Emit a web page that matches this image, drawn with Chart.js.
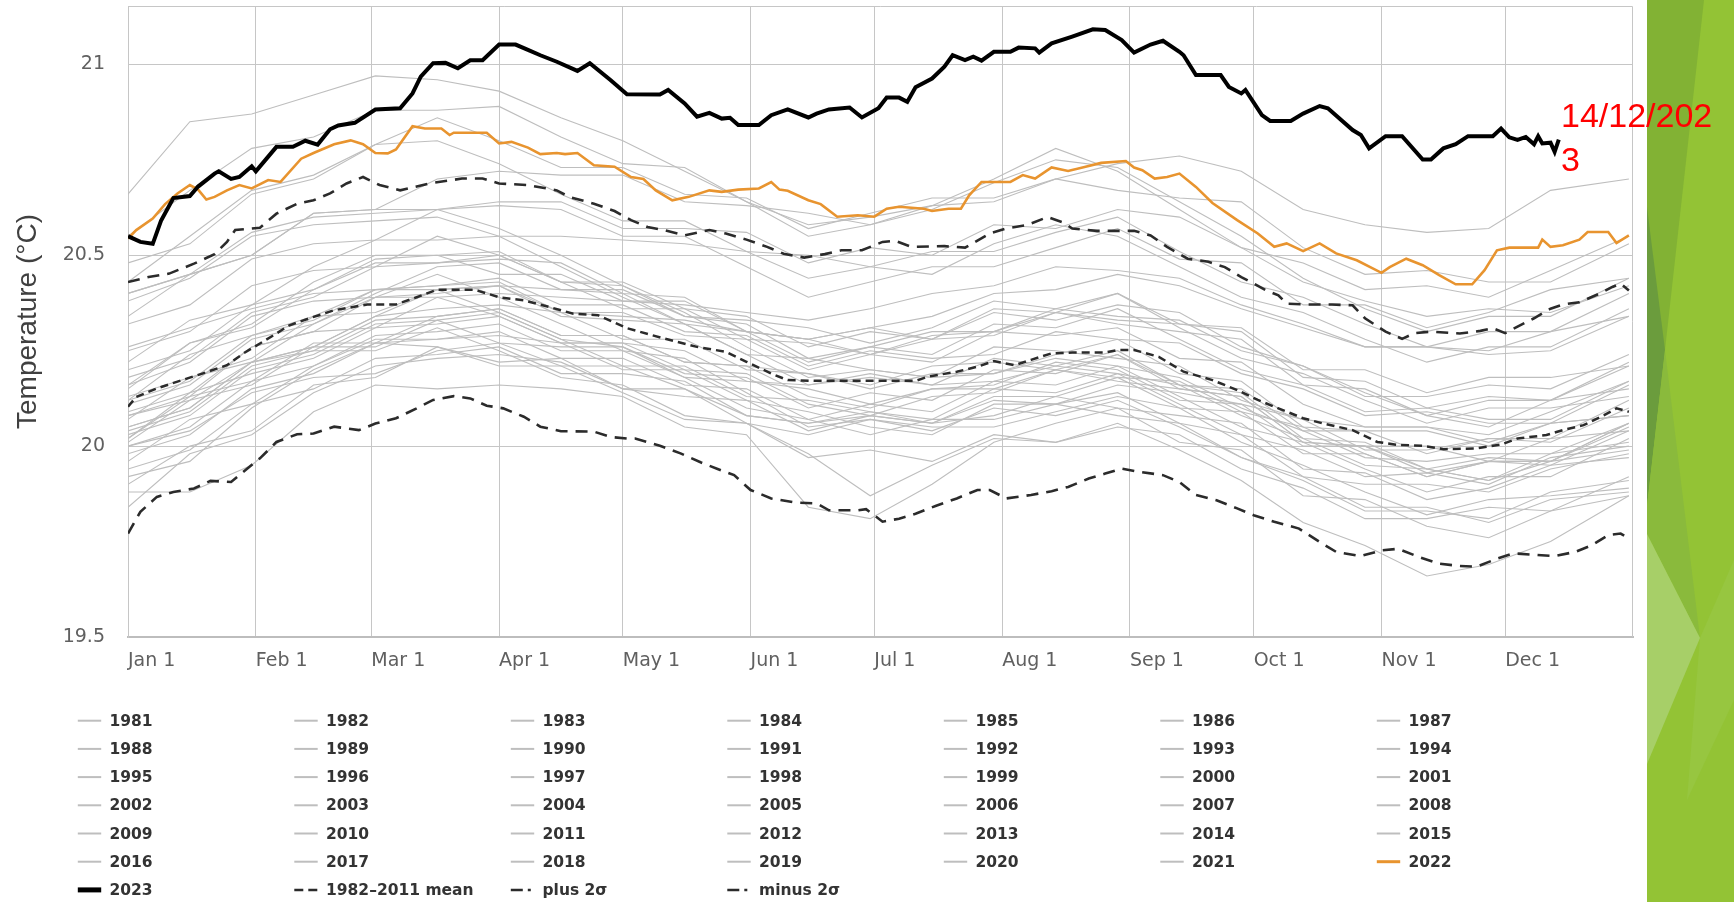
<!DOCTYPE html>
<html>
<head>
<meta charset="utf-8">
<script src="https://cdn.jsdelivr.net/npm/chart.js@4.4.1/dist/chart.umd.min.js"></script>
<style>
html,body{margin:0;padding:0;background:#fff;width:1734px;height:902px;overflow:hidden;}
#wrap{position:relative;width:1734px;height:902px;}
#deco{position:absolute;left:1647px;top:0;width:87px;height:902px;}
#c{position:absolute;left:0;top:0;}
#note{position:absolute;left:1561px;top:93px;width:160px;font-family:"Liberation Sans",Arial,sans-serif;font-size:34px;line-height:44px;color:#ff0000;word-break:break-all;}
</style>
</head>
<body>
<div id="wrap">
<svg id="deco" width="87" height="902" viewBox="0 0 87 902">
  <rect x="0" y="0" width="87" height="902" fill="#93c335"/>
  <polygon points="0,0 57,0 18,350 0,500" fill="#82b234"/>
  <polygon points="0,207 18,350 0,506" fill="#6b9c3d"/>
  <polygon points="18,350 53,638 0,534 0,506" fill="#8aba3c"/>
  <polygon points="0,534 53,638 0,764" fill="#a7cf68"/>
  <polygon points="53,638 87,560 87,700 40,800" fill="#97c640"/>
</svg>
<canvas id="c" width="1734" height="902"></canvas>
<div id="note">14/12/2023</div>
</div>
<script>
// ---- axis ticks ----
const monthDays = [0,31,59,90,120,151,181,212,243,273,304,334];
const monthLabels = ['Jan 1','Feb 1','Mar 1','Apr 1','May 1','Jun 1','Jul 1','Aug 1','Sep 1','Oct 1','Nov 1','Dec 1'];
const yTicks = [19.5,20,20.5,21];

// ---- gray years (1981-2021), values at these days ----
const grayDays = [0,15,30,45,60,75,90,105,120,135,150,165,180,195,210,225,240,255,270,285,300,315,330,345,364];
const grayYears = [1981,1982,1983,1984,1985,1986,1987,1988,1989,1990,1991,1992,1993,1994,1995,1996,1997,1998,1999,2000,2001,2002,2003,2004,2005,2006,2007,2008,2009,2010,2011,2012,2013,2014,2015,2016,2017,2018,2019,2020,2021];
const y1981 = [20.00,20.04,20.14,20.18,20.19,20.25,20.27,20.21,20.21,20.15,20.06,20.03,20.07,20.05,20.05,20.09,20.13,20.10,20.01,19.95,19.88,19.82,19.86,19.87,19.89];
const y1982 = [19.92,19.96,20.10,20.20,20.27,20.26,20.22,20.23,20.15,20.13,20.12,20.09,20.05,20.03,20.11,20.11,20.16,20.14,20.11,20.07,20.05,20.05,20.03,20.09,20.17];
const y1983 = [20.16,20.22,20.34,20.38,20.39,20.45,20.39,20.32,20.25,20.23,20.14,20.05,20.07,20.04,20.10,20.08,20.12,20.05,19.97,19.91,19.83,19.83,19.81,19.88,19.91];
const y1984 = [19.90,20.00,20.04,20.16,20.18,20.26,20.21,20.21,20.14,20.07,20.06,19.98,19.87,19.95,20.02,20.01,20.06,19.99,19.91,19.80,19.74,19.66,19.69,19.75,19.87];
const y1985 = [19.88,19.88,19.95,20.09,20.16,20.15,20.16,20.15,20.13,20.05,20.03,19.84,19.81,19.90,20.01,20.06,20.10,20.01,19.99,19.87,19.86,19.79,19.76,19.83,19.87];
const y1986 = [19.94,19.99,20.11,20.15,20.23,20.24,20.26,20.19,20.19,20.17,20.08,20.06,20.09,20.06,20.13,20.13,20.18,20.10,20.09,19.98,19.98,19.92,19.96,19.96,20.06];
const y1987 = [20.08,20.13,20.26,20.30,20.39,20.40,20.42,20.35,20.35,20.29,20.28,20.20,20.24,20.22,20.30,20.29,20.31,20.23,20.22,20.11,20.05,20.05,20.01,20.06,20.08];
const y1988 = [20.12,20.24,20.29,20.34,20.35,20.41,20.35,20.28,20.26,20.18,20.10,20.07,20.03,20.07,20.07,20.11,20.08,20.06,19.97,19.92,19.84,19.84,19.80,19.86,19.88];
const y1989 = [19.84,19.98,20.03,20.14,20.21,20.23,20.24,20.22,20.15,20.15,20.08,20.06,20.08,20.06,20.12,20.11,20.14,20.06,20.03,19.92,19.90,19.90,19.88,19.94,19.98];
const y1990 = [20.04,20.09,20.21,20.25,20.33,20.34,20.36,20.29,20.29,20.22,20.21,20.13,20.10,20.15,20.16,20.22,20.20,20.12,20.11,20.00,20.00,19.94,19.91,19.98,20.01];
const y1991 = [20.02,20.14,20.19,20.23,20.31,20.32,20.34,20.27,20.27,20.25,20.17,20.16,20.19,20.16,20.23,20.21,20.25,20.16,20.14,20.02,20.01,19.94,19.97,19.96,20.05];
const y1992 = [20.08,20.12,20.22,20.25,20.25,20.31,20.25,20.18,20.16,20.08,20.06,19.97,19.99,19.96,20.03,20.01,20.05,20.03,19.94,19.89,19.81,19.81,19.84,19.83,19.92];
const y1993 = [19.96,20.07,20.11,20.21,20.28,20.28,20.29,20.27,20.20,20.20,20.12,20.04,20.08,20.06,20.08,20.13,20.10,20.08,20.06,19.94,19.93,19.86,19.89,19.95,19.97];
const y1994 = [20.00,20.05,20.17,20.21,20.29,20.30,20.32,20.25,20.25,20.18,20.17,20.15,20.11,20.15,20.15,20.20,20.17,20.15,20.13,20.01,20.00,20.00,19.96,20.02,20.04];
const y1995 = [20.09,20.14,20.26,20.30,20.31,20.39,20.34,20.27,20.27,20.20,20.19,20.11,20.08,20.13,20.14,20.20,20.18,20.17,20.09,20.05,19.98,19.92,19.96,19.96,20.06];
const y1996 = [20.03,20.08,20.20,20.24,20.32,20.33,20.35,20.28,20.21,20.21,20.13,20.12,20.09,20.07,20.15,20.14,20.19,20.11,20.03,19.99,19.92,19.93,19.90,19.97,20.00];
const y1997 = [20.05,20.10,20.22,20.26,20.34,20.36,20.37,20.35,20.34,20.33,20.30,20.28,20.31,20.34,20.40,20.41,20.45,20.42,20.36,20.31,20.26,20.26,20.25,20.30,20.34];
const y1998 = [20.38,20.44,20.55,20.58,20.59,20.60,20.55,20.47,20.39,20.32,20.24,20.16,20.18,20.16,20.17,20.21,20.19,20.16,20.08,20.02,19.95,19.94,19.91,19.96,19.99];
const y1999 = [19.98,20.03,20.15,20.19,20.27,20.28,20.30,20.23,20.23,20.16,20.15,20.07,20.11,20.09,20.17,20.16,20.21,20.13,20.05,20.01,19.94,19.88,19.92,19.92,20.02];
const y2000 = [20.01,20.12,20.16,20.26,20.26,20.33,20.27,20.26,20.26,20.19,20.18,20.10,20.14,20.12,20.20,20.19,20.24,20.16,20.15,20.04,20.04,19.98,20.02,20.02,20.12];
const y2001 = [20.12,20.17,20.29,20.33,20.41,20.42,20.44,20.37,20.37,20.30,20.29,20.21,20.25,20.23,20.24,20.30,20.28,20.27,20.19,20.15,20.08,20.09,20.06,20.06,20.16];
const y2002 = [20.18,20.23,20.35,20.39,20.47,20.48,20.50,20.43,20.36,20.36,20.34,20.26,20.30,20.28,20.36,20.35,20.40,20.32,20.31,20.20,20.20,20.14,20.18,20.18,20.21];
const y2003 = [20.25,20.30,20.42,20.46,20.47,20.55,20.50,20.43,20.43,20.36,20.28,20.27,20.24,20.29,20.30,20.36,20.34,20.33,20.25,20.21,20.14,20.08,20.12,20.12,20.22];
const y2004 = [20.20,20.25,20.37,20.41,20.49,20.50,20.45,20.45,20.38,20.38,20.30,20.22,20.26,20.24,20.32,20.31,20.36,20.28,20.20,20.16,20.09,20.10,20.07,20.07,20.17];
const y2005 = [20.15,20.27,20.32,20.43,20.50,20.50,20.51,20.43,20.42,20.34,20.32,20.23,20.26,20.30,20.30,20.35,20.32,20.30,20.28,20.16,20.15,20.08,20.05,20.12,20.15];
const y2006 = [20.13,20.18,20.23,20.34,20.41,20.41,20.42,20.41,20.40,20.32,20.30,20.28,20.24,20.28,20.35,20.33,20.37,20.35,20.26,20.21,20.13,20.13,20.16,20.15,20.24];
const y2007 = [20.26,20.31,20.36,20.40,20.41,20.42,20.43,20.35,20.28,20.28,20.20,20.19,20.16,20.21,20.22,20.20,20.24,20.15,20.13,20.01,20.00,19.93,19.96,19.95,20.04];
const y2008 = [20.02,20.13,20.17,20.27,20.27,20.34,20.36,20.29,20.29,20.22,20.21,20.19,20.15,20.19,20.19,20.24,20.28,20.19,20.17,20.05,20.04,20.04,20.00,20.06,20.08];
const y2009 = [20.07,20.18,20.22,20.32,20.39,20.39,20.40,20.39,20.38,20.37,20.35,20.33,20.36,20.40,20.42,20.47,20.46,20.44,20.37,20.32,20.26,20.26,20.24,20.25,20.34];
const y2010 = [20.34,20.45,20.56,20.60,20.61,20.62,20.57,20.50,20.42,20.35,20.26,20.18,20.20,20.18,20.19,20.23,20.21,20.18,20.10,20.04,19.97,19.96,19.98,19.98,20.06];
const y2011 = [20.05,20.10,20.22,20.26,20.34,20.41,20.42,20.34,20.33,20.32,20.24,20.23,20.20,20.18,20.26,20.25,20.23,20.21,20.12,20.07,19.99,19.99,20.02,20.01,20.10];
const y2012 = [20.11,20.16,20.28,20.32,20.40,20.47,20.48,20.41,20.41,20.34,20.33,20.31,20.27,20.31,20.38,20.36,20.40,20.31,20.23,20.19,20.12,20.06,20.10,20.10,20.13];
const y2013 = [20.16,20.27,20.31,20.41,20.48,20.48,20.49,20.48,20.40,20.39,20.30,20.28,20.31,20.28,20.29,20.35,20.33,20.32,20.30,20.18,20.17,20.10,20.13,20.12,20.21];
const y2014 = [20.22,20.33,20.37,20.47,20.54,20.54,20.55,20.55,20.54,20.53,20.51,20.44,20.47,20.51,20.51,20.56,20.60,20.51,20.43,20.39,20.32,20.26,20.30,20.30,20.40];
const y2015 = [20.40,20.45,20.50,20.61,20.62,20.70,20.72,20.71,20.71,20.64,20.63,20.61,20.58,20.63,20.64,20.70,20.74,20.76,20.72,20.62,20.58,20.56,20.57,20.67,20.70];
const y2016 = [20.66,20.85,20.87,20.92,20.97,20.96,20.93,20.86,20.80,20.72,20.64,20.58,20.60,20.63,20.70,20.78,20.72,20.62,20.52,20.43,20.38,20.34,20.36,20.35,20.42];
const y2017 = [20.48,20.53,20.66,20.70,20.79,20.80,20.74,20.66,20.59,20.59,20.51,20.50,20.47,20.45,20.53,20.58,20.55,20.47,20.39,20.35,20.28,20.22,20.26,20.26,20.36];
const y2018 = [20.32,20.37,20.49,20.53,20.54,20.62,20.63,20.62,20.55,20.55,20.47,20.39,20.43,20.47,20.47,20.52,20.57,20.49,20.48,20.37,20.37,20.31,20.35,20.41,20.44];
const y2019 = [20.43,20.55,20.67,20.71,20.79,20.86,20.80,20.73,20.73,20.66,20.65,20.57,20.61,20.65,20.65,20.70,20.67,20.65,20.64,20.52,20.45,20.46,20.43,20.43,20.53];
const y2020 = [20.55,20.67,20.78,20.81,20.88,20.88,20.89,20.81,20.74,20.73,20.64,20.55,20.58,20.62,20.69,20.75,20.73,20.64,20.55,20.44,20.36,20.30,20.34,20.34,20.44];
const y2021 = [20.40,20.45,20.50,20.61,20.62,20.62,20.64,20.64,20.57,20.57,20.56,20.48,20.52,20.50,20.58,20.57,20.62,20.60,20.52,20.48,20.41,20.42,20.39,20.46,20.55];
const grayValues = [y1981,y1982,y1983,y1984,y1985,y1986,y1987,y1988,y1989,y1990,y1991,y1992,y1993,y1994,y1995,y1996,y1997,y1998,y1999,y2000,y2001,y2002,y2003,y2004,y2005,y2006,y2007,y2008,y2009,y2010,y2011,y2012,y2013,y2014,y2015,y2016,y2017,y2018,y2019,y2020,y2021];

// ---- 2022 ----
const days2022 = [0,2,6,9,12,15,17,19,21,24,27,30,34,37,42,45,50,54,57,60,63,65,69,72,76,78,79,87,90,93,97,100,104,106,109,113,118,122,125,128,132,136,141,144,148,153,156,158,160,165,168,172,177,181,184,187,193,195,199,202,204,207,214,217,220,224,228,232,236,242,244,246,249,252,255,259,263,269,274,278,281,285,289,293,298,304,306,310,314,318,322,326,329,332,335,342,343,345,348,352,354,359,361,364];
const vals2022 = [20.544,20.566,20.596,20.634,20.662,20.684,20.672,20.646,20.653,20.67,20.684,20.675,20.697,20.692,20.753,20.768,20.791,20.801,20.791,20.768,20.767,20.777,20.838,20.832,20.832,20.815,20.821,20.821,20.793,20.797,20.782,20.765,20.768,20.765,20.768,20.736,20.732,20.705,20.70,20.67,20.644,20.653,20.67,20.666,20.672,20.675,20.692,20.672,20.669,20.644,20.634,20.601,20.605,20.601,20.622,20.627,20.622,20.616,20.622,20.622,20.657,20.692,20.692,20.71,20.701,20.73,20.721,20.731,20.742,20.747,20.73,20.723,20.701,20.705,20.714,20.679,20.637,20.592,20.557,20.522,20.531,20.511,20.531,20.505,20.487,20.454,20.469,20.491,20.474,20.448,20.424,20.424,20.461,20.513,20.52,20.52,20.541,20.522,20.526,20.541,20.561,20.561,20.532,20.552];

// ---- 2023 (to 14 Dec) ----
const days2023 = [0,3,6,8,11,15,17,21,22,25,27,30,31,36,40,43,46,49,51,55,60,66,69,71,74,77,80,83,86,90,94,97,100,104,109,112,117,121,129,131,135,138,141,144,146,148,153,156,160,165,167,170,175,178,182,184,187,189,191,195,198,200,203,205,207,210,214,216,220,221,224,229,234,237,241,244,248,251,255,256,259,265,267,270,271,275,277,282,285,289,291,297,299,301,305,309,314,316,319,322,325,331,333,335,337,339,341,342,343,345,346,347];
const vals2023 = [20.55,20.535,20.53,20.59,20.65,20.655,20.68,20.714,20.72,20.70,20.705,20.733,20.72,20.784,20.784,20.80,20.79,20.83,20.84,20.847,20.882,20.885,20.924,20.968,21.003,21.004,20.99,21.011,21.011,21.052,21.052,21.038,21.024,21.007,20.983,21.003,20.959,20.922,20.921,20.933,20.898,20.863,20.873,20.858,20.86,20.841,20.841,20.867,20.882,20.861,20.871,20.882,20.887,20.861,20.885,20.913,20.913,20.902,20.94,20.963,20.994,21.024,21.011,21.02,21.01,21.033,21.033,21.044,21.042,21.031,21.055,21.073,21.092,21.09,21.064,21.031,21.052,21.062,21.033,21.024,20.972,20.972,20.941,20.924,20.933,20.867,20.852,20.852,20.871,20.891,20.885,20.828,20.815,20.78,20.812,20.812,20.751,20.751,20.78,20.791,20.812,20.812,20.832,20.809,20.802,20.81,20.791,20.812,20.793,20.795,20.771,20.803];

// ---- 1982-2011 mean ----
const daysMean = [0,2,7,12,18,24,28,32,36,39,44,50,58,65,70,75,84,90,96,102,108,114,121,130,138,145,150,156,160,167,178,191,194,201,206,210,215,219,224,229,237,240,244,250,256,263,269,274,279,285,290,297,303,308,314,319,327,333,337,344,348,353,358,361,364];
const valsMean = [20.103,20.129,20.151,20.169,20.19,20.212,20.243,20.269,20.295,20.316,20.335,20.356,20.371,20.371,20.39,20.41,20.41,20.39,20.382,20.365,20.347,20.343,20.309,20.282,20.26,20.247,20.221,20.19,20.173,20.171,20.171,20.171,20.182,20.195,20.208,20.223,20.212,20.226,20.243,20.245,20.245,20.252,20.252,20.234,20.195,20.173,20.147,20.121,20.099,20.073,20.059,20.042,20.011,20.003,20.001,19.992,19.994,20.004,20.02,20.029,20.042,20.055,20.081,20.099,20.09];

// ---- plus 2 sigma ----
const daysPlus = [0,5,10,16,21,24,26,32,36,41,45,49,53,57,61,66,73,81,86,90,97,104,107,113,118,122,126,130,135,141,145,150,155,159,164,169,173,178,183,186,190,198,203,209,213,218,223,227,229,235,244,248,252,257,262,266,270,273,276,279,281,286,292,297,300,305,309,312,316,323,328,331,334,337,341,345,348,352,357,360,362,364];
const valsPlus = [20.43,20.443,20.452,20.478,20.503,20.535,20.566,20.572,20.609,20.635,20.644,20.662,20.688,20.705,20.684,20.67,20.688,20.701,20.701,20.688,20.684,20.67,20.653,20.635,20.616,20.592,20.574,20.566,20.552,20.566,20.557,20.541,20.522,20.504,20.494,20.503,20.513,20.513,20.535,20.538,20.522,20.524,20.52,20.557,20.57,20.579,20.60,20.585,20.57,20.564,20.564,20.552,20.522,20.491,20.483,20.469,20.443,20.426,20.408,20.395,20.373,20.371,20.371,20.369,20.335,20.30,20.281,20.296,20.30,20.295,20.302,20.309,20.296,20.313,20.335,20.36,20.371,20.377,20.40,20.417,20.426,20.408];

// ---- minus 2 sigma ----
const daysMinus = [0,3,7,11,16,20,25,28,32,36,41,45,50,56,60,65,70,74,79,83,87,91,96,100,105,113,117,121,123,129,134,139,143,147,151,156,162,167,170,177,179,183,187,191,196,201,206,209,213,219,224,228,233,237,241,245,251,255,259,264,269,273,278,284,289,293,299,304,308,313,318,323,327,332,336,346,351,355,359,362,364];
const valsMinus = [19.771,19.828,19.867,19.88,19.889,19.909,19.906,19.933,19.968,20.011,20.031,20.033,20.051,20.042,20.059,20.073,20.099,20.121,20.131,20.125,20.106,20.099,20.077,20.051,20.039,20.038,20.024,20.02,20.02,20.001,19.981,19.957,19.94,19.924,19.885,19.863,19.852,19.85,19.832,19.832,19.835,19.802,19.81,19.823,19.844,19.863,19.885,19.885,19.863,19.872,19.882,19.893,19.915,19.928,19.941,19.933,19.924,19.906,19.872,19.858,19.837,19.819,19.802,19.784,19.749,19.723,19.712,19.727,19.731,19.71,19.692,19.686,19.684,19.705,19.719,19.712,19.723,19.74,19.767,19.771,19.758];

const pts = (d, v) => d.map((x, i) => ({x: x, y: v[i]}));

const datasets = [];
grayYears.forEach((yr, i) => {
  datasets.push({label: String(yr), data: pts(grayDays, grayValues[i]), borderColor: '#bebebe', borderWidth: 1.1, order: 4, legendWidth: 2});
});
datasets.push({label: '2022', data: pts(days2022, vals2022), borderColor: '#e8942f', borderWidth: 2.6, order: 1, legendWidth: 3});
datasets.push({label: '2023', data: pts(days2023, vals2023), borderColor: '#000000', borderWidth: 4, order: 0, legendWidth: 5});
datasets.push({label: '1982\u20132011 mean', data: pts(daysMean, valsMean), borderColor: '#2b2b2b', borderWidth: 2.5, borderDash: [8,5], order: 2, legendWidth: 2.5, legendDash: [9,5]});
datasets.push({label: 'plus 2\u03c3', data: pts(daysPlus, valsPlus), borderColor: '#2b2b2b', borderWidth: 2.6, borderDash: [12,8], order: 2, legendWidth: 2.5, legendDash: [12,5,3,5]});
datasets.push({label: 'minus 2\u03c3', data: pts(daysMinus, valsMinus), borderColor: '#2b2b2b', borderWidth: 2.6, borderDash: [12,8], order: 2, legendWidth: 2.5, legendDash: [12,5,3,5]});

const frame = {
  id: 'frame',
  beforeDatasetsDraw(chart) {
    const a = chart.chartArea, ctx = chart.ctx;
    ctx.save();
    ctx.strokeStyle = '#c6c6c6';
    ctx.lineWidth = 1;
    ctx.beginPath();
    ctx.moveTo(a.left, a.top + 0.5); ctx.lineTo(a.right - 0.5, a.top + 0.5); ctx.lineTo(a.right - 0.5, a.bottom);
    ctx.stroke();
    ctx.restore();
  }
};

const LEG_COLS = 7;
const gridLegend = {
  id: 'gridLegend',
  afterDraw(chart) {
    const ctx = chart.ctx;
    ctx.save();
    chart.data.datasets.forEach((ds, i) => {
      const col = i % LEG_COLS, row = Math.floor(i / LEG_COLS);
      const x = 77.8 + col * 216.5, y = 720.7 + row * 28.2;
      ctx.beginPath();
      ctx.setLineDash(ds.legendDash || []);
      ctx.strokeStyle = ds.borderColor;
      ctx.lineWidth = ds.legendWidth;
      ctx.moveTo(x, y); ctx.lineTo(x + 23.4, y);
      ctx.stroke();
      ctx.setLineDash([]);
      ctx.fillStyle = '#333333';
      ctx.font = 'bold 15.5px "DejaVu Sans"';
      ctx.textBaseline = 'middle';
      ctx.textAlign = 'left';
      ctx.fillText(ds.label, x + 31.7, y + 1);
    });
    ctx.restore();
  }
};

new Chart(document.getElementById('c'), {
  type: 'line',
  data: {datasets: datasets},
  plugins: [frame, gridLegend],
  options: {
    responsive: false,
    animation: false,
    layout: {padding: {left: 0, top: 6, right: 101, bottom: 0}},
    elements: {point: {radius: 0, hoverRadius: 0}, line: {tension: 0, fill: false}},
    plugins: {legend: {display: false}, tooltip: {enabled: false}},
    scales: {
      x: {
        type: 'linear', min: 0, max: 365,
        afterBuildTicks: s => { s.ticks = monthDays.map(v => ({value: v})); },
        afterFit: s => { s.height = 265; s.paddingLeft = 0; s.paddingRight = 0; },
        ticks: {align: 'start', padding: 13, color: '#606060', autoSkip: false, maxRotation: 0,
                font: {family: 'DejaVu Sans', size: 19},
                callback: (v, i) => monthLabels[i]},
        grid: {color: '#c6c6c6', lineWidth: 1, drawTicks: false},
        border: {color: '#bdbdbd', width: 2}
      },
      y: {
        min: 19.5, max: 21.153,
        afterBuildTicks: s => { s.ticks = yTicks.map(v => ({value: v})); },
        afterFit: s => { s.width = 128; s.paddingTop = 0; s.paddingBottom = 0; },
        ticks: {padding: 23, color: '#606060', font: {family: 'DejaVu Sans', size: 19},
                callback: v => String(v)},
        grid: {color: '#c6c6c6', lineWidth: 1, drawTicks: false},
        border: {color: '#c6c6c6', width: 1},
        title: {display: true, text: 'Temperature (\u00b0C)', color: '#404040',
                font: {family: 'Liberation Sans', size: 28}, padding: {top: 11, bottom: 0}}
      }
    }
  }
});
</script>
</body>
</html>
